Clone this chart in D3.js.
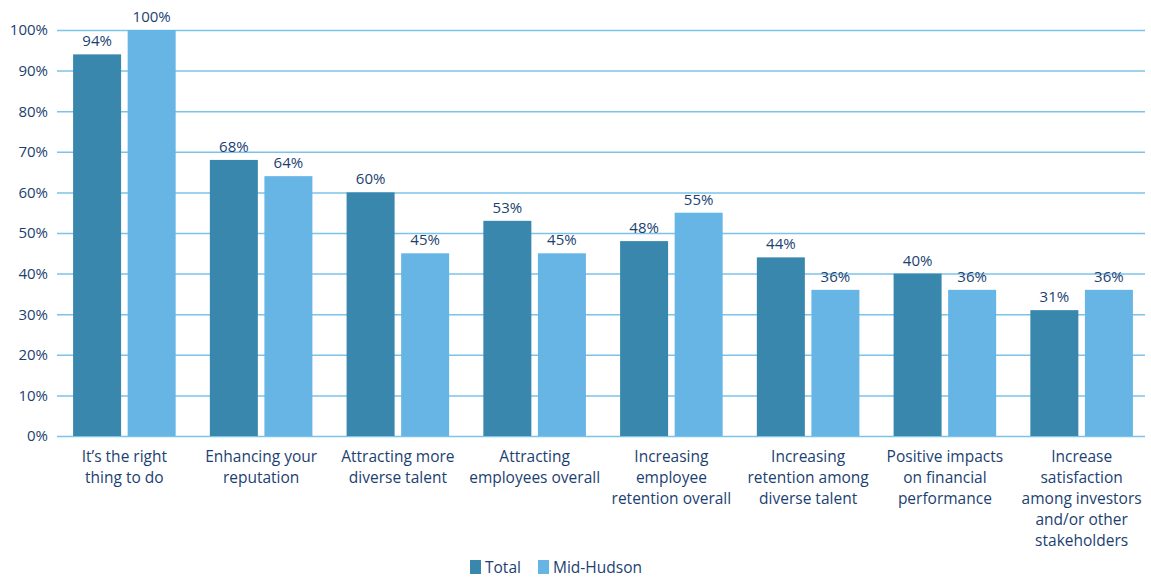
<!DOCTYPE html>
<html>
<head>
<meta charset="utf-8">
<script src="https://cdn.jsdelivr.net/npm/d3@7"></script>
<style>
  body { margin: 0; background: #fff; }
  text { font-family: "Open Sans", "Noto Sans", sans-serif; fill: #1c3f72; }
</style>
</head>
<body>
<script>
// chart data
var categories = [
  ["It\u2019s the right", "thing to do"],
  ["Enhancing your", "reputation"],
  ["Attracting more", "diverse talent"],
  ["Attracting", "employees overall"],
  ["Increasing", "employee", "retention overall"],
  ["Increasing", "retention among", "diverse talent"],
  ["Positive impacts", "on financial", "performance"],
  ["Increase", "satisfaction", "among investors", "and/or other", "stakeholders"]
];
var seriesNames = ["Total", "Mid-Hudson"];
var totalValues = [94, 68, 60, 53, 48, 44, 40, 31];
var midHudsonValues = [100, 64, 45, 45, 55, 36, 36, 36];
var yTicks = [0, 10, 20, 30, 40, 50, 60, 70, 80, 90, 100];

var width = 1151;
var height = 578;
var colors = ["#3a87ad", "#66b5e4"];

var svg = d3.select("body").append("svg")
            .attr("width", width)
            .attr("height", height);

var x0 = d3.scaleBand()
           .domain(d3.range(categories.length))
           .range([56, 1150])
           .paddingInner(0.25)
           .paddingOuter(0.125);
var x1 = d3.scaleBand()
           .domain(seriesNames)
           .range([0, x0.bandwidth()])
           .paddingInner(0.12);
var y = d3.scaleLinear()
          .domain([0, 100])
          .range([436, 30]);

// gridlines + y labels
var yAxis = d3.axisLeft(y)
              .tickValues(yTicks)
              .tickSize(-(1145 - 57))
              .tickPadding(10)
              .tickFormat(function(d) { return d + "%"; });
var yg = svg.append("g")
            .attr("transform", "translate(57,0)")
            .call(yAxis);
yg.select(".domain").remove();
yg.selectAll(".tick line").attr("stroke", "#7cc3ea").attr("stroke-width", 1.5);
yg.selectAll(".tick text")
  .attr("x", -9)
  .style("font-size", "15px")
  .style("fill", "#1c3f72");

// bars
var rows = categories.map(function(c, i) {
  return { i: i, vals: [{ s: seriesNames[0], v: totalValues[i] }, { s: seriesNames[1], v: midHudsonValues[i] }] };
});

var groups = svg.selectAll("g.grp")
                .data(rows)
                .enter().append("g")
                .attr("class", "grp")
                .attr("transform", function(d) { return "translate(" + x0(d.i) + ",0)"; });

groups.selectAll("rect")
      .data(function(d) { return d.vals; })
      .enter().append("rect")
      .attr("x", function(d) { return x1(d.s); })
      .attr("y", function(d) { return y(d.v); })
      .attr("width", x1.bandwidth())
      .attr("height", function(d) { return y(0) - y(d.v); })
      .attr("fill", function(d, i) { return colors[i]; });

groups.selectAll("text.val")
      .data(function(d) { return d.vals; })
      .enter().append("text")
      .attr("class", "val")
      .attr("x", function(d) { return x1(d.s) + x1.bandwidth() / 2; })
      .attr("y", function(d) { return y(d.v) - 8; })
      .attr("text-anchor", "middle")
      .style("font-size", "15px")
      .text(function(d) { return d.v + "%"; });

// category labels
var labels = svg.selectAll("text.cat")
                .data(categories)
                .enter().append("text")
                .attr("class", "cat")
                .attr("text-anchor", "middle")
                .style("font-size", "15.5px")
                .attr("transform", function(d, i) { return "translate(" + (x0(i) + x0.bandwidth() / 2) + ",462)"; });
labels.selectAll("tspan")
      .data(function(d) { return d; })
      .enter().append("tspan")
      .attr("x", 0)
      .attr("y", function(d, i) { return i * 21; })
      .text(function(d) { return d; });

// legend
var legendX = [470, 538];
var legend = svg.selectAll("g.legend")
                .data(seriesNames)
                .enter().append("g")
                .attr("class", "legend")
                .attr("transform", function(d, i) { return "translate(" + legendX[i] + ",560)"; });
legend.append("rect")
      .attr("width", 11)
      .attr("height", 14)
      .attr("fill", function(d, i) { return colors[i]; });
legend.append("text")
      .attr("x", 15)
      .attr("y", 13)
      .style("font-size", "15.5px")
      .text(function(d) { return d; });
</script>
</body>
</html>
